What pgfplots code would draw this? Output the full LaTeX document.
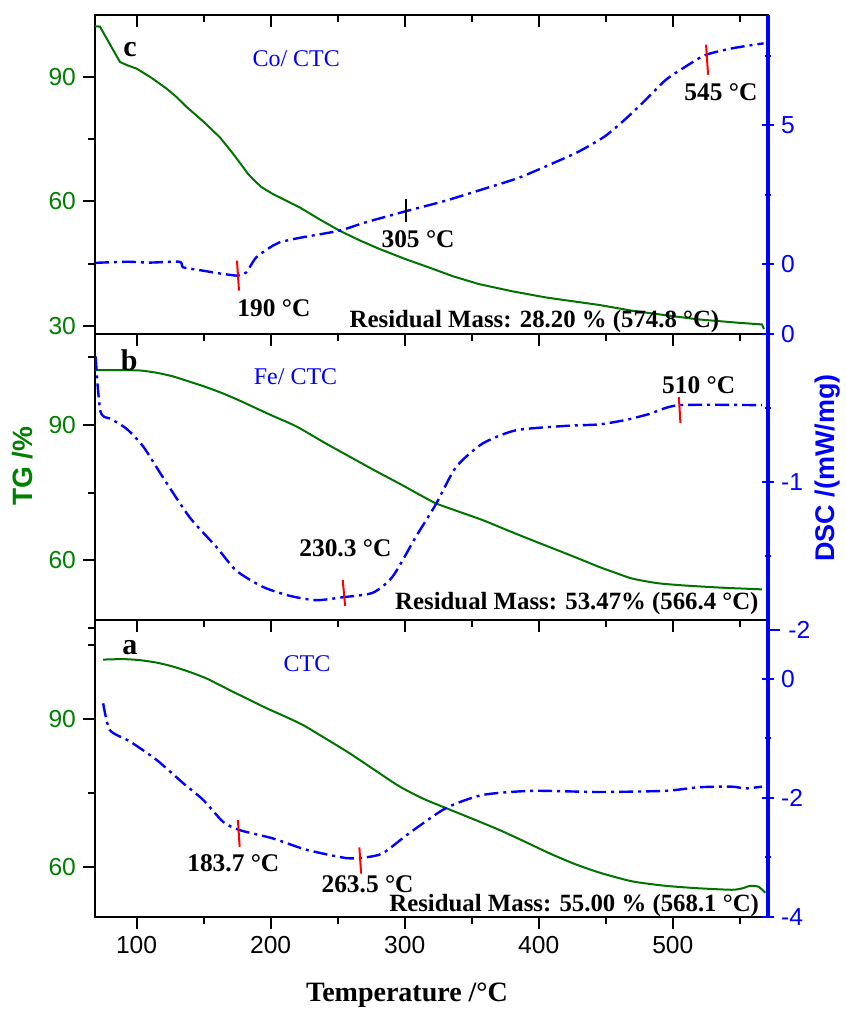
\documentclass[border=0pt]{standalone}
\usepackage{pgfplots}
\pgfplotsset{compat=1.18}
\usepackage{fontspec}
\setmainfont{Liberation Serif}
\newfontfamily\arial{Liberation Sans}
\definecolor{tgg}{RGB}{0,128,0}
\definecolor{tgl}{RGB}{0,115,0}
\definecolor{dscb}{RGB}{0,0,255}
\pgfplotsset{
  base/.style={scale only axis, width=336.5pt, xmin=69, xmax=571, anchor=south west,
    clip mode=individual, tick align=outside, major tick length=6pt, minor tick length=3.5pt,
    tick label style={font=\arial\fontsize{12.3}{13}\selectfont},
    /pgf/number format/assume math mode=true},
  tg/.style={base, axis line style={line width=1.2pt},
    xtick={100,200,...,500}, minor xtick={150,250,...,550},
    xtick pos=left, ytick pos=left, tick style={black, line width=1pt},
    yticklabel style={text=tgg}},
  dsc/.style={base, axis y line=right, axis x line=none,
    y axis line style={-, draw=dscb, line width=1.6pt},
    xtick=\empty, ytick pos=right, tick style={dscb, line width=1pt},
    yticklabel style={text=dscb}, minor tick length=3pt},
  tgline/.style={tgl, line width=1pt, smooth, tension=0.4, mark=none},
  dscline/.style={dscb, line width=1.2pt, dash pattern=on 7pt off 2.5pt on 1.5pt off 2.5pt, smooth, tension=0.4, mark=none},
}
\tikzset{
  ann/.style={font=\bfseries\fontsize{12.7}{14}\selectfont, inner sep=0pt},
  res/.style={font=\bfseries\fontsize{12.4}{14}\selectfont, inner sep=0pt},
  pl/.style={font=\bfseries\fontsize{15}{16}\selectfont, inner sep=0pt},
  sn/.style={font=\fontsize{12}{14}\selectfont, text=dscb, inner sep=0pt},
  mk/.style={red, line width=1pt},
}
\begin{document}
\begin{tikzpicture}
\path[use as bounding box] (0,0) rectangle (423pt,504.5pt);
% ---------- panel c top ticks (inside)
\begin{axis}[scale only axis, width=336.5pt, height=159.5pt, at={(47.5pt,337.5pt)}, anchor=south west,
  xmin=69, xmax=571, ymin=0, ymax=1, xtick={100,200,...,500}, minor xtick={150,250,...,550},
  xtick pos=right, tick align=inside, xticklabels={}, ytick=\empty, axis line style={draw=none},
  major tick length=6pt, minor tick length=3.5pt, tick style={black, line width=1pt}]
\end{axis}
% ---------- panel c
\begin{axis}[tg, height=159.5pt, at={(47.5pt,337.5pt)}, ymin=28.1, ymax=104.9,
  ytick={30,60,90}, minor ytick={45,75}, xticklabels={}]
\addplot[tgl, line width=1pt, mark=none] coordinates {(69,102.2)(72.7,102.1)(87.6,93.6)(93,92.8)(100,92.0)(111,89.8)(122.3,87.2)(130,85.1)(137.2,82.8)(150,79.2)(162,75.5)(172,71.5)(179.4,68.3)(183,66.7)(186.8,65.4)(193,63.5)(201.7,61.8)(211,60.3)(221.6,58.6)(236,55.8)(251.3,53.0)(266,50.7)(281,48.6)(300,46.2)(318.3,44.1)(336,42.0)(355.6,40.1)(380,38.4)(405.2,36.9)(425,36.0)(444.9,35.1)(469.7,33.7)(495,32.6)(519.4,31.6)(549.2,30.8)(566.5,30.4)(568,29.3)};
\end{axis}
\begin{axis}[dsc, height=159.5pt, at={(47.5pt,337.5pt)}, ymin=-2.52, ymax=8.96,
  ytick={0,5}, minor ytick={2.5,7.5}]
\addplot[dscline] coordinates {(69,0.04)(92.6,0.08)(110,0.05)(132,0.08)(134.7,-0.12)(147,-0.22)(162,-0.34)(175.6,-0.42)(181.9,-0.30)(189.3,0.24)(201.7,0.66)(206.7,0.78)(221.6,0.94)(251.3,1.20)(271,1.50)(301,1.90)(330,2.27)(355.6,2.65)(385,3.10)(412.7,3.67)(430,4.05)(448.6,4.57)(462,5.10)(477.1,5.78)(494.6,6.62)(509.4,7.10)(524.3,7.52)(544.1,7.76)(567.7,7.94)};
\draw[mk] (axis cs:174.9,0.12) -- (axis cs:176.4,-0.96);
\draw[mk] (axis cs:524.8,7.89) -- (axis cs:526.3,6.81);
\draw[black, line width=1pt] (axis cs:301,2.35) -- (axis cs:301,1.50);
\node[pl] at (rel axis cs:0.052,0.892) {c};
\node[sn] at (rel axis cs:0.299,0.864) {Co/ CTC};
\node[ann, anchor=west] at (rel axis cs:0.211,0.080) {190 °C};
\node[ann] at (rel axis cs:0.480,0.296) {305 °C};
\node[ann] at (rel axis cs:0.930,0.759) {545 °C};
\node[res] at (rel axis cs:0.653,0.039) {Residual Mass: 28.20 \% (574.8 °C)};
\end{axis}
% ---------- panel b
\begin{axis}[tg, height=143pt, at={(47.5pt,194.5pt)}, ymin=46.7, ymax=110.2,
  ytick={60,90}, minor ytick={75,105}, xticklabels={}]
\addplot[tgline] coordinates {(69,102.2)(85,102.2)(102.5,102.1)(114.9,101.6)(127,100.8)(139.7,99.6)(152,98.4)(164.5,97.0)(177,95.4)(189.3,93.7)(201,92.1)(214.1,90.4)(221.6,89.3)(240,86.1)(258.8,83.0)(277,80.0)(296,77.0)(310,74.7)(323.3,72.6)(340,70.8)(358,68.9)(376,66.7)(395.2,64.4)(414,62.2)(432.5,60.0)(444.9,58.5)(457,57.2)(469.7,55.9)(488,54.9)(506.9,54.4)(535,53.9)(566.5,53.5)};
\draw[line width=1pt] (axis cs:69,45) -- ([xshift=-3.5pt]axis cs:69,45);
\end{axis}
\begin{axis}[dsc, height=143pt, at={(47.5pt,194.5pt)}, ymin=-1.934, ymax=0.002,
  ytick={-1,0}, minor ytick={-1.5,-0.5}]
\addplot[dscline] coordinates {(69.5,-0.15)(71,-0.35)(73,-0.52)(76,-0.56)(80.1,-0.57)(92.6,-0.64)(105,-0.76)(119.8,-0.97)(139.7,-1.24)(159.6,-1.44)(174.4,-1.60)(194.2,-1.71)(214.1,-1.77)(234,-1.80)(253.8,-1.78)(276.1,-1.75)(291,-1.64)(308.4,-1.37)(323.3,-1.15)(338.2,-0.90)(358,-0.74)(382.9,-0.65)(420.1,-0.62)(444.9,-0.61)(464.8,-0.58)(482.2,-0.54)(504.5,-0.48)(566.5,-0.48)};
\draw[mk] (axis cs:253.8,-1.664) -- (axis cs:255.6,-1.84);
\draw[mk] (axis cs:504.5,-0.426) -- (axis cs:505.7,-0.601);
\draw[dscb, line width=1pt] (axis cs:571,-2) -- ([xshift=6pt]axis cs:571,-2);
\node[anchor=west, inner sep=0pt, text=dscb, font=\arial\fontsize{12.3}{13}\selectfont] at ([xshift=10pt]axis cs:571,-2) {-2};
\node[pl] at (rel axis cs:0.051,0.909) {b};
\node[sn] at (rel axis cs:0.298,0.851) {Fe/ CTC};
\node[ann] at (rel axis cs:0.372,0.252) {230.3 °C};
\node[ann] at (rel axis cs:0.897,0.822) {510 °C};
\node[res] at (rel axis cs:0.716,0.058) {Residual Mass: 53.47\% (566.4 °C)};
\end{axis}
% ---------- panel a
\begin{axis}[tg, height=148.5pt, at={(47.5pt,46pt)}, ymin=50, ymax=110,
  ytick={60,90}, minor ytick={75,105}]
\addplot[tgline] coordinates {(75.1,102.0)(90,102.1)(102,101.9)(114.9,101.4)(127,100.6)(139.7,99.5)(152.1,98.2)(161,97.0)(171.9,95.5)(184,93.9)(196.8,92.2)(210,90.6)(224,88.8)(238.9,86.4)(258.8,83.1)(277,79.8)(296,76.4)(313,74.0)(330.8,72.0)(350,69.9)(370.5,67.6)(389,65.3)(407.7,62.9)(426,60.8)(444.9,59.0)(469.7,57.2)(494.6,56.3)(519.4,55.8)(544.1,55.5)(552,55.8)(557.8,56.3)(564,56.1)(569,54.9)};
\end{axis}
\begin{axis}[dsc, height=148.5pt, at={(47.5pt,46pt)}, ymin=-4.0, ymax=0.99,
  ytick={-4,-2,0}, minor ytick={-3,-1}]
\addplot[dscline] coordinates {(75.1,-0.41)(80.1,-0.86)(95,-1.05)(114.9,-1.36)(134.7,-1.75)(149.6,-2.03)(164.5,-2.40)(176.9,-2.54)(201.7,-2.68)(226.6,-2.87)(256.3,-3.01)(270,-3.00)(283.6,-2.93)(303.5,-2.59)(330.8,-2.17)(358,-1.95)(395.2,-1.88)(444.9,-1.90)(494.6,-1.88)(519.4,-1.82)(544.1,-1.81)(554.1,-1.84)(566.5,-1.81)};
\draw[mk] (axis cs:175.6,-2.37) -- (axis cs:176.9,-2.82);
\draw[mk] (axis cs:266.2,-2.83) -- (axis cs:267.5,-3.27);
\node[pl] at (rel axis cs:0.052,0.906) {a};
\node[sn] at (rel axis cs:0.315,0.852) {CTC};
\node[ann] at (rel axis cs:0.2055,0.181) {183.7 °C};
\node[ann] at (rel axis cs:0.405,0.111) {263.5 °C};
\node[res] at (rel axis cs:0.712,0.038) {Residual Mass: 55.00 \% (568.1 °C)};
\end{axis}
% ---------- axis titles
\node[font=\bfseries\fontsize{14}{16}\selectfont] at (203.5pt,7pt) {Temperature /°C};
\node[rotate=90, text=tgg, font=\arial\bfseries\fontsize{14}{16}\selectfont] at (11.5pt,271.5pt) {TG /\%};
\node[rotate=90, text=dscb, font=\arial\bfseries\fontsize{13.5}{16}\selectfont] at (414pt,270.5pt) {DSC /(mW/mg)};
\end{tikzpicture}
\end{document}
